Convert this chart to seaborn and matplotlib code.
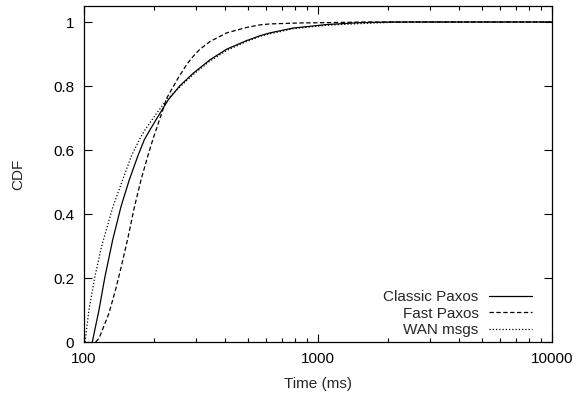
import matplotlib
matplotlib.use("Agg")
import matplotlib.pyplot as plt
import seaborn as sns
import pandas as pd
from matplotlib.ticker import FixedLocator, FixedFormatter, LogLocator, NullFormatter

# Data (time in ms, cumulative fraction)
classic_x = [108.5, 115.9, 122.6, 132.6, 143.9, 156.2, 169.6, 181, 191.4, 211.3, 229.3,
             257, 293, 345.6, 407, 495.7, 565, 623, 783, 1089, 1510, 2090, 10000]
classic_y = [0.0, 0.1, 0.2, 0.319, 0.423, 0.507, 0.580, 0.632, 0.663, 0.715, 0.757,
             0.801, 0.840, 0.882, 0.915, 0.942, 0.957, 0.966, 0.981, 0.992, 0.998, 1.0, 1.0]

fast_x = [112.2, 116, 119.8, 127.9, 136.6, 143.9, 153.7, 164, 175.3, 187.1, 196.7, 214.8, 225.6,
          253, 274.7, 293, 313, 345.6, 407, 495.7, 565, 623, 838, 1089, 1600, 10000]
fast_y = [0.0, 0.012, 0.0375, 0.09, 0.165, 0.232, 0.322, 0.42, 0.507, 0.580, 0.632, 0.715, 0.762,
          0.826, 0.867, 0.893, 0.915, 0.939, 0.966, 0.983, 0.991, 0.994, 0.997, 0.998, 1.0, 1.0]

wan_x = [101, 105, 111, 119, 133, 146.3, 159.5, 172.3, 182.3, 204.4, 225.6, 257, 293, 345.6,
         407, 495.7, 565, 623, 783, 1089, 1510, 2090, 3000, 10000]
wan_y = [0.0, 0.1, 0.2, 0.3, 0.423, 0.507, 0.582, 0.632, 0.663, 0.715, 0.757, 0.797, 0.836, 0.878,
         0.911, 0.939, 0.955, 0.963, 0.979, 0.990, 0.995, 0.999, 1.0, 1.0]

series_names = ["Classic Paxos", "Fast Paxos", "WAN msgs"]
x_ticks = [100, 1000, 10000]
x_tick_labels = ["100", "1000", "10000"]
y_ticks = [0, 0.2, 0.4, 0.6, 0.8, 1]
y_tick_labels = ["0", "0.2", "0.4", "0.6", "0.8", "1"]

sns.set_style("ticks")
plt.rcParams["font.family"] = ["Liberation Sans", "DejaVu Sans"]
FS = 11
plt.rcParams["font.size"] = FS

fig = plt.figure(figsize=(5.76, 3.95), dpi=100)
ax = fig.add_axes([84/576, 53/395, (552-84)/576, (342-6)/395])

styles = [
    dict(linestyle="-"),
    dict(linestyle=(0, (3.5, 2.0))),
    dict(linestyle=(0, (1.0, 1.6))),
]
datasets = [(classic_x, classic_y), (fast_x, fast_y), (wan_x, wan_y)]
for name, (xs, ys), st in zip(series_names, datasets, styles):
    df = pd.DataFrame({"x": xs, "y": ys})
    sns.lineplot(data=df, x="x", y="y", ax=ax, color="black", linewidth=0.9,
                 sort=False, estimator=None, label=name, **st)

ax.set_xscale("log")
ax.set_xlim(100, 10000)
ax.set_ylim(0, 1.05)
ax.xaxis.set_major_locator(FixedLocator(x_ticks))
ax.xaxis.set_major_formatter(FixedFormatter(x_tick_labels))
ax.xaxis.set_minor_locator(LogLocator(base=10, subs=range(2, 10)))
ax.xaxis.set_minor_formatter(NullFormatter())
ax.yaxis.set_major_locator(FixedLocator(y_ticks))
ax.yaxis.set_major_formatter(FixedFormatter(y_tick_labels))

ax.tick_params(which="both", direction="in", top=True, right=True, colors="black",
               labelsize=FS, width=0.8)
ax.tick_params(which="major", length=6, pad=7)
ax.tick_params(which="minor", length=3)
for s in ax.spines.values():
    s.set_visible(True)
    s.set_linewidth(0.9)
    s.set_color("black")

ax.set_xlabel("Time (ms)", fontsize=FS, labelpad=8)
ax.set_ylabel("CDF", fontsize=FS, labelpad=20)

leg = ax.legend(loc="lower right", bbox_to_anchor=(1.0, -0.045), frameon=False,
                markerfirst=False, handlelength=2.8, labelspacing=0.17, fontsize=FS,
                borderaxespad=0.9, handletextpad=0.7)

fig.savefig("out.png", dpi=100)
